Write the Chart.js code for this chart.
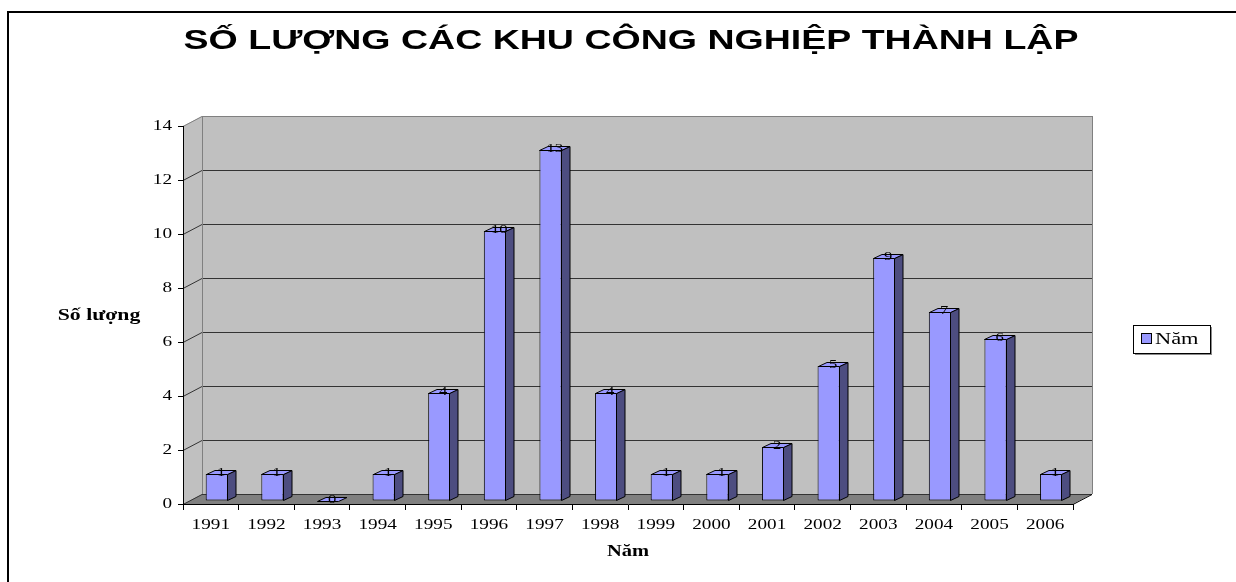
<!DOCTYPE html>
<html><head><meta charset="utf-8">
<script src="https://cdn.jsdelivr.net/npm/chart.js@4.4.1/dist/chart.umd.min.js"></script>
<style>html,body{margin:0;padding:0;background:#fff;overflow:hidden}#wrap{position:relative;width:1236px;height:582px}canvas{display:block}</style>
</head><body><div id="wrap"><canvas id="c" width="1236" height="582"></canvas></div>
<script>
// ---- data ----
const chartTitle = 'SỐ LƯỢNG CÁC KHU CÔNG NGHIỆP THÀNH LẬP';
const yAxisTitle = 'Số lượng';
const xAxisTitle = 'Năm';
const seriesName = 'Năm';
const years = ['1991','1992','1993','1994','1995','1996','1997','1998','1999','2000','2001','2002','2003','2004','2005','2006'];
const counts = [1, 1, 0, 1, 4, 10, 13, 4, 1, 1, 2, 5, 9, 7, 6, 1];
const yMin = 0, yMax = 14, yStep = 2;

// ---- styles ----
const SERIF = '"Liberation Serif", "Times New Roman", serif';
const SANS = '"Liberation Sans", Arial, sans-serif';
const WALL = '#c0c0c0', FLOOR = '#808080', WALL_EDGE = '#808080', GRID = '#333333';
const BAR_FRONT = '#9999ff', BAR_SIDE = '#4d4d80', BAR_TOP = '#9999ff';
const DEPTH = {dx: 19, dy: -10};
const BAR_SHIFT = {dx: 6, dy: -3};
const BAR_DEPTH = {dx: 8.5, dy: -4};
const TEXT_STRETCH = 1.28;

const canvas = document.getElementById('c');
const ctx0 = canvas.getContext('2d');
const origFill = ctx0.fillText;
ctx0.__sx = TEXT_STRETCH;
ctx0.fillText = function(t, x, y) {
  const sx = this.__sx || 1;
  this.save(); this.translate(x, y); this.scale(sx, 1); origFill.call(this, t, 0, 0); this.restore();
};

function poly(ctx, pts, fill, stroke, lw) {
  ctx.beginPath();
  ctx.moveTo(pts[0][0], pts[0][1]);
  for (let i = 1; i < pts.length; i++) ctx.lineTo(pts[i][0], pts[i][1]);
  ctx.closePath();
  if (fill) { ctx.fillStyle = fill; ctx.fill(); }
  if (stroke) { ctx.strokeStyle = stroke; ctx.lineWidth = lw || 1; ctx.stroke(); }
}

const threeD = {
  id: 'threeD',
  beforeDraw(chart) {
    const {ctx, chartArea: a, scales: {y}} = chart;
    const L = a.left, R = a.right, T = a.top, B = a.bottom;
    const dx = DEPTH.dx, dy = DEPTH.dy;
    ctx.save();
    ctx.fillStyle = '#fff'; ctx.fillRect(0, 0, chart.width, chart.height);
    ctx.strokeStyle = '#000'; ctx.lineWidth = 2; ctx.strokeRect(8, 12, 1400, 800);
    // side wall
    poly(ctx, [[L, T], [L + dx, T + dy], [L + dx, B + dy], [L, B]], WALL);
    // back wall
    ctx.fillStyle = WALL; ctx.fillRect(L + dx, T + dy, R - L, B - T);
    // floor
    poly(ctx, [[L, B], [R, B], [R + dx, B + dy], [L + dx, B + dy]], FLOOR);
    // gridlines
    ctx.lineWidth = 1;
    y.ticks.forEach(t => {
      const py = Math.round(y.getPixelForValue(t.value)) + 0.5;
      const top = t.value === yMax;
      ctx.strokeStyle = top ? WALL_EDGE : GRID;
      ctx.beginPath();
      ctx.moveTo(L, py); ctx.lineTo(L + dx, py + dy);
      ctx.lineTo(R + dx, py + dy);
      ctx.stroke();
    });
    // wall edges
    ctx.strokeStyle = WALL_EDGE;
    ctx.beginPath();
    ctx.moveTo(L + dx + 0.5, T + dy); ctx.lineTo(L + dx + 0.5, B + dy);
    ctx.moveTo(R + dx + 0.5, T + dy); ctx.lineTo(R + dx + 0.5, B + dy);
    ctx.stroke();
    ctx.strokeStyle = '#000';
    ctx.beginPath();
    ctx.moveTo(R, B + 0.5); ctx.lineTo(R + dx, B + dy + 0.5);
    ctx.stroke();
    // title
    ctx.__sx = 1.34;
    ctx.fillStyle = '#000';
    ctx.font = 'bold 28px ' + SANS;
    ctx.textAlign = 'center'; ctx.textBaseline = 'alphabetic';
    ctx.fillText(chartTitle, 631, 49);
    // y axis title
    ctx.__sx = 1.36;
    ctx.font = 'bold 16px ' + SERIF;
    ctx.textBaseline = 'middle';
    ctx.fillText(yAxisTitle, 99, 316);
    ctx.__sx = TEXT_STRETCH;
    ctx.restore();
  },
  beforeDatasetsDraw(chart) {
    chart.ctx.save();
    chart.ctx.translate(BAR_SHIFT.dx, BAR_SHIFT.dy);
  },
  afterDatasetsDraw(chart) {
    const ctx = chart.ctx;
    ctx.restore();
    const meta = chart.getDatasetMeta(0);
    ctx.save();
    ctx.lineJoin = 'miter';
    meta.data.forEach((bar, i) => {
      const p = bar.getProps(['x', 'y', 'base', 'width'], true);
      const x1 = Math.round(p.x - p.width / 2 + BAR_SHIFT.dx) + 0.5;
      const x2 = Math.round(p.x + p.width / 2 + BAR_SHIFT.dx) - 0.5;
      const yT = Math.round(p.y + BAR_SHIFT.dy) + 0.5;
      const yB = Math.round(p.base + BAR_SHIFT.dy) - 0.5;
      const bx = BAR_DEPTH.dx, by = BAR_DEPTH.dy;
      if (yB - yT > 0) {
        poly(ctx, [[x2, yT], [x2 + bx, yT + by], [x2 + bx, yB + by], [x2, yB]], BAR_SIDE, '#000', 1);
      }
      poly(ctx, [[x1, yT], [x2, yT], [x2 + bx, yT + by], [x1 + bx, yT + by]], BAR_TOP, '#000', 1);
      // value label
      ctx.__sx = TEXT_STRETCH;
      ctx.fillStyle = '#000';
      ctx.font = '13px ' + SERIF;
      ctx.textAlign = 'center'; ctx.textBaseline = 'middle';
      ctx.fillText(String(counts[i]), (x1 + x2) / 2 + bx / 2, yT + by / 2);
    });
    ctx.restore();
  },
  afterDraw(chart) {
    const ctx = chart.ctx;
    ctx.save();
    // legend
    const lx = 1133, ly = 325, lw = 77, lh = 28;
    ctx.fillStyle = '#8a8a8a'; ctx.fillRect(lx + 2, ly + 2, lw, lh);
    ctx.fillStyle = '#fff'; ctx.fillRect(lx, ly, lw, lh);
    ctx.strokeStyle = '#000'; ctx.lineWidth = 1; ctx.strokeRect(lx + 0.5, ly + 0.5, lw, lh);
    ctx.fillStyle = BAR_FRONT; ctx.fillRect(lx + 8, ly + 8, 10, 10);
    ctx.strokeRect(lx + 8.5, ly + 8.5, 10, 10);
    ctx.__sx = 1.4;
    ctx.fillStyle = '#000';
    ctx.font = '16px ' + SERIF;
    ctx.textAlign = 'left'; ctx.textBaseline = 'middle';
    ctx.fillText(seriesName, lx + 22, ly + 15);
    ctx.__sx = TEXT_STRETCH;
    ctx.restore();
  }
};

new Chart(canvas, {
  type: 'bar',
  data: {
    labels: years,
    datasets: [{
      label: seriesName,
      data: counts,
      backgroundColor: BAR_FRONT,
      borderColor: '#000',
      borderWidth: 1,
      borderSkipped: false,
      barPercentage: 0.4,
      categoryPercentage: 1.0
    }]
  },
  options: {
    responsive: false,
    animation: false,
    devicePixelRatio: 1,
    layout: {padding: {left: 0, right: 163, top: 126, bottom: 0}},
    plugins: {legend: {display: false}, title: {display: false}, tooltip: {enabled: false}},
    scales: {
      x: {
        type: 'category',
        offset: true,
        grid: {offset: true, drawOnChartArea: false, color: '#000', tickLength: 6},
        border: {color: '#000', width: 1},
        ticks: {color: '#000', font: {family: SERIF, size: 15}, padding: 6, maxRotation: 0, autoSkip: false},
        title: {display: true, text: xAxisTitle, color: '#000', font: {family: SERIF, size: 16, weight: 'bold'}, padding: {top: 0, bottom: 21}},
        afterFit: s => { s.height = 78; }
      },
      y: {
        min: yMin, max: yMax,
        ticks: {stepSize: yStep, color: '#000', font: {family: SERIF, size: 15}, padding: 6},
        grid: {drawOnChartArea: false, color: '#000', tickLength: 5},
        border: {color: '#000', width: 1},
        afterFit: s => { s.width = 183; }
      }
    }
  },
  plugins: [threeD]
});
</script>
</body></html>
